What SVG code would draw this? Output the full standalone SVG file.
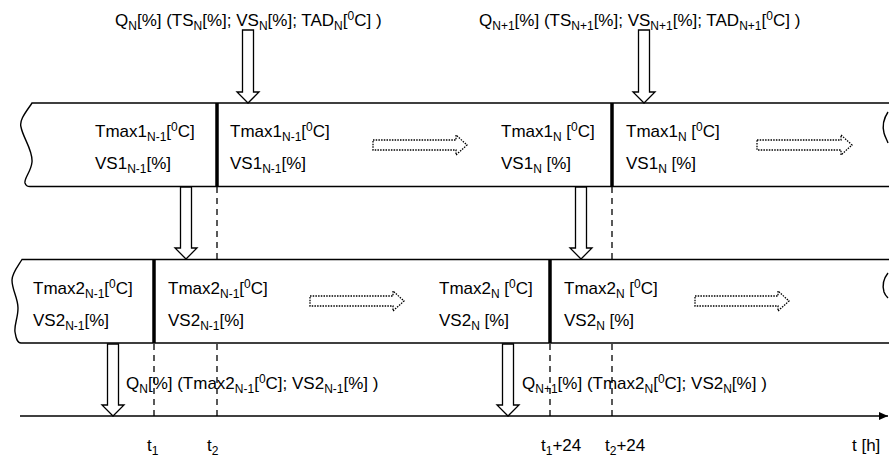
<svg xmlns="http://www.w3.org/2000/svg" width="889" height="459" viewBox="0 0 889 459">
<defs>
<style>
text{font-family:"Liberation Sans",Arial,sans-serif;font-size:17px;fill:#000}
.s{font-size:12px}
.band{fill:none;stroke:#000;stroke-width:1.4}
.sep{stroke:#000;stroke-width:3.5}
.dash{stroke:#000;stroke-width:1.3;stroke-dasharray:6 5;fill:none}
.harrow{fill:#fff;stroke:#000;stroke-width:1.3}
.darrow{fill:none;stroke:#000;stroke-width:1.3;stroke-dasharray:1.5 1.2}
.axis{stroke:#000;stroke-width:1.4;fill:none}
</style>
<marker id="ah" markerWidth="10" markerHeight="8" refX="9" refY="4" orient="auto" markerUnits="userSpaceOnUse">
<path d="M0,0 L9,4 L0,8 Z" fill="#000"/>
</marker>
</defs>
<rect width="889" height="459" fill="#fff"/>

<g id="band-top">
<path class="band" d="M889,103 L32,103 C26,112 19,120 21,127 C23,138 33,150 32,162 C31,172 24,178 25,183 C26,186 27,186.5 30,186.5 L889,186.5"/>
<path class="band" d="M888,112 C884,118 882,125 884,133 C885,137 887,140 888,143"/>
<line class="sep" x1="217" y1="103" x2="217" y2="186.5"/>
<line class="sep" x1="612" y1="103" x2="612" y2="186.5"/>
</g>

<g id="band-bottom">
<path class="band" d="M889,259.5 L22,259.5 C18,266 12,273 12,280 C12,290 18,298 18,308 C18,318 14,325 15,332 C16,338 17,343 21,343 L889,343"/>
<path class="band" d="M888,273 C884,278 882,285 884,292 C885,295 887,297 888,298"/>
<line class="sep" x1="154" y1="259.5" x2="154" y2="343"/>
<line class="sep" x1="550" y1="259.5" x2="550" y2="343"/>
</g>

<g id="cell-top-1">
<text x="95" y="137">Tmax1<tspan class="s" dy="4">N-1</tspan><tspan dy="-4">[</tspan><tspan class="s" dy="-6">0</tspan><tspan dy="6">C]</tspan></text>
<text x="95" y="169">VS1<tspan class="s" dy="4">N-1</tspan><tspan dy="-4">[%]</tspan></text>
</g>
<g id="cell-top-2">
<text x="230" y="137">Tmax1<tspan class="s" dy="4">N-1</tspan><tspan dy="-4">[</tspan><tspan class="s" dy="-6">0</tspan><tspan dy="6">C]</tspan></text>
<text x="230" y="169">VS1<tspan class="s" dy="4">N-1</tspan><tspan dy="-4">[%]</tspan></text>
</g>
<g id="cell-top-3">
<text x="501" y="137">Tmax1<tspan class="s" dy="4">N</tspan><tspan dy="-4"> [</tspan><tspan class="s" dy="-6">0</tspan><tspan dy="6">C]</tspan></text>
<text x="501" y="169">VS1<tspan class="s" dy="4">N</tspan><tspan dy="-4"> [%]</tspan></text>
</g>
<g id="cell-top-4">
<text x="626" y="137">Tmax1<tspan class="s" dy="4">N</tspan><tspan dy="-4"> [</tspan><tspan class="s" dy="-6">0</tspan><tspan dy="6">C]</tspan></text>
<text x="626" y="169">VS1<tspan class="s" dy="4">N</tspan><tspan dy="-4"> [%]</tspan></text>
</g>

<g id="cell-bot-1">
<text x="33" y="294">Tmax2<tspan class="s" dy="4">N-1</tspan><tspan dy="-4">[</tspan><tspan class="s" dy="-6">0</tspan><tspan dy="6">C]</tspan></text>
<text x="33" y="326">VS2<tspan class="s" dy="4">N-1</tspan><tspan dy="-4">[%]</tspan></text>
</g>
<g id="cell-bot-2">
<text x="168" y="294">Tmax2<tspan class="s" dy="4">N-1</tspan><tspan dy="-4">[</tspan><tspan class="s" dy="-6">0</tspan><tspan dy="6">C]</tspan></text>
<text x="168" y="326">VS2<tspan class="s" dy="4">N-1</tspan><tspan dy="-4">[%]</tspan></text>
</g>
<g id="cell-bot-3">
<text x="439" y="294">Tmax2<tspan class="s" dy="4">N</tspan><tspan dy="-4"> [</tspan><tspan class="s" dy="-6">0</tspan><tspan dy="6">C]</tspan></text>
<text x="439" y="326">VS2<tspan class="s" dy="4">N</tspan><tspan dy="-4"> [%]</tspan></text>
</g>
<g id="cell-bot-4">
<text x="564" y="294">Tmax2<tspan class="s" dy="4">N</tspan><tspan dy="-4"> [</tspan><tspan class="s" dy="-6">0</tspan><tspan dy="6">C]</tspan></text>
<text x="564" y="326">VS2<tspan class="s" dy="4">N</tspan><tspan dy="-4"> [%]</tspan></text>
</g>

<g id="input-1">
<text x="115" y="26">Q<tspan class="s" dy="4">N</tspan><tspan dy="-4">[%] (TS</tspan><tspan class="s" dy="4">N</tspan><tspan dy="-4">[%]; VS</tspan><tspan class="s" dy="4">N</tspan><tspan dy="-4">[%]; TAD</tspan><tspan class="s" dy="4">N</tspan><tspan dy="-4">[</tspan><tspan class="s" dy="-6">0</tspan><tspan dy="6">C] )</tspan></text>
</g>
<g id="input-2">
<text x="479" y="26">Q<tspan class="s" dy="4">N+1</tspan><tspan dy="-4">[%] (TS</tspan><tspan class="s" dy="4">N+1</tspan><tspan dy="-4">[%]; VS</tspan><tspan class="s" dy="4">N+1</tspan><tspan dy="-4">[%]; TAD</tspan><tspan class="s" dy="4">N+1</tspan><tspan dy="-4">[</tspan><tspan class="s" dy="-6">0</tspan><tspan dy="6">C] )</tspan></text>
</g>
<g id="output-1">
<text x="126" y="389">Q<tspan class="s" dy="4">N</tspan><tspan dy="-4">[%] (Tmax2</tspan><tspan class="s" dy="4">N-1</tspan><tspan dy="-4">[</tspan><tspan class="s" dy="-6">0</tspan><tspan dy="6">C]; VS2</tspan><tspan class="s" dy="4">N-1</tspan><tspan dy="-4">[%] )</tspan></text>
</g>
<g id="output-2">
<text x="522" y="389">Q<tspan class="s" dy="4">N+1</tspan><tspan dy="-4">[%] (Tmax2</tspan><tspan class="s" dy="4">N</tspan><tspan dy="-4">[</tspan><tspan class="s" dy="-6">0</tspan><tspan dy="6">C]; VS2</tspan><tspan class="s" dy="4">N</tspan><tspan dy="-4">[%] )</tspan></text>
</g>

<g id="axis">
<line class="axis" x1="20" y1="416" x2="888" y2="416" marker-end="url(#ah)"/>
<text x="147" y="451">t<tspan class="s" dy="4">1</tspan></text>
<text x="207" y="451">t<tspan class="s" dy="4">2</tspan></text>
<text x="541" y="451">t<tspan class="s" dy="4">1</tspan><tspan dy="-4">+24</tspan></text>
<text x="605" y="451">t<tspan class="s" dy="4">2</tspan><tspan dy="-4">+24</tspan></text>
<text x="852" y="451">t [h]</text>
</g>

<g id="connectors">
<line class="dash" x1="217" y1="187" x2="217" y2="259"/>
<line class="dash" x1="217" y1="344" x2="217" y2="416"/>
<line class="dash" x1="154" y1="344" x2="154" y2="416"/>
<line class="dash" x1="612" y1="187" x2="612" y2="259"/>
<line class="dash" x1="612" y1="344" x2="612" y2="416"/>
<line class="dash" x1="550" y1="344" x2="550" y2="416"/>
<path class="harrow" d="M242.5,30 L253.5,30 L253.5,92 L259,92 L248,103 L237,92 L242.5,92 Z"/>
<path class="harrow" d="M638.5,30 L649.5,30 L649.5,92 L655,92 L644,103 L633,92 L638.5,92 Z"/>
<path class="harrow" d="M180.5,187 L191.5,187 L191.5,248 L197,248 L186,259 L175,248 L180.5,248 Z"/>
<path class="harrow" d="M575.5,187 L586.5,187 L586.5,248 L592,248 L581,259 L570,248 L575.5,248 Z"/>
<path class="harrow" d="M107.5,344 L118.5,344 L118.5,405 L124,405 L113,416 L102,405 L107.5,405 Z"/>
<path class="harrow" d="M502.5,344 L513.5,344 L513.5,405 L519,405 L508,416 L497,405 L502.5,405 Z"/>
<path class="darrow" d="M373,140 L456,140 L456,135 L467,145 L456,155 L456,150 L373,150 Z"/>
<path class="darrow" d="M757,140 L841,140 L841,135 L852,145 L841,155 L841,150 L757,150 Z"/>
<path class="darrow" d="M310,296 L393,296 L393,291 L404,301 L393,311 L393,306 L310,306 Z"/>
<path class="darrow" d="M695,296 L778,296 L778,291 L789,301 L778,311 L778,306 L695,306 Z"/>
</g>
</svg>
